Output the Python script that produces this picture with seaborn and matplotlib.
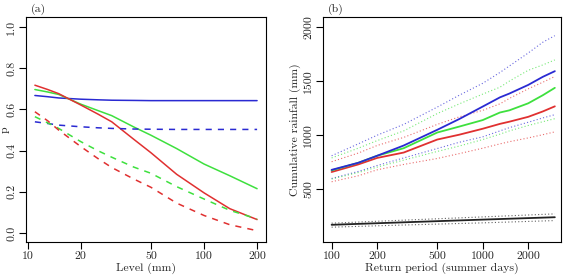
import numpy as np
import pandas as pd
import matplotlib
matplotlib.use('Agg')
import matplotlib.pyplot as plt
import seaborn as sns

# Panel (a): probability p against level (mm)
level = [11, 13, 15, 20, 25, 30, 40, 50, 70, 100, 140, 200]
p_blue = [0.668, 0.662, 0.656, 0.650, 0.647, 0.645, 0.644, 0.643, 0.643, 0.643, 0.643, 0.643]
p_green = [0.697, 0.685, 0.673, 0.626, 0.595, 0.570, 0.515, 0.475, 0.41, 0.335, 0.278, 0.215]
p_red = [0.718, 0.697, 0.677, 0.622, 0.578, 0.540, 0.455, 0.39, 0.285, 0.195, 0.118, 0.065]
p_blue_d = [0.54, 0.532, 0.524, 0.516, 0.511, 0.508, 0.505, 0.504, 0.503, 0.503, 0.503, 0.503]
p_green_d = [0.565, 0.535, 0.508, 0.444, 0.40, 0.368, 0.32, 0.29, 0.225, 0.165, 0.11, 0.068]
p_red_d = [0.589, 0.545, 0.50, 0.42, 0.362, 0.318, 0.262, 0.222, 0.145, 0.085, 0.04, 0.011]

# Panel (b): cumulative rainfall against return period
period = [100, 150, 200, 300, 500, 700, 1000, 1300, 1500, 2000, 2500, 3000]
rain_blue = [680, 745, 810, 905, 1050, 1150, 1265, 1350, 1385, 1465, 1540, 1592]
rain_green = [675, 745, 810, 880, 1025, 1080, 1140, 1210, 1230, 1295, 1370, 1438]
rain_red = [660, 730, 790, 840, 960, 1005, 1060, 1105, 1125, 1170, 1220, 1267]
up_blue = [810, 920, 1000, 1100, 1260, 1370, 1480, 1580, 1640, 1760, 1860, 1920]
up_green = [790, 880, 950, 1040, 1200, 1290, 1380, 1444, 1500, 1600, 1650, 1696]
up_red = [755, 835, 905, 980, 1100, 1170, 1230, 1290, 1340, 1429, 1490, 1543]
lo_blue = [600, 665, 720, 790, 877, 935, 985, 1040, 1070, 1120, 1160, 1190]
lo_green = [595, 655, 705, 770, 850, 900, 960, 1010, 1040, 1090, 1125, 1153]
lo_red = [570, 625, 680, 730, 785, 830, 880, 920, 940, 975, 1005, 1031]

period_k = [100, 300, 1000, 3000]
rain_black = [172, 195, 220, 242]
up_black = [187, 215, 245, 273]
lo_black = [150, 170, 190, 211]

BLUE = '#2a2ad2'
GREEN = '#3ee03e'
RED = '#e03030'
BLACK = '#222222'

sns.set_style('white')
plt.rcParams['font.family'] = 'serif'
plt.rcParams['font.serif'] = ['cmr10', 'DejaVu Serif']
plt.rcParams['axes.formatter.use_mathtext'] = True
plt.rcParams['font.size'] = 8.5

fig = plt.figure(figsize=(5.64, 2.8), dpi=100)
ax1 = fig.add_axes([0.0461, 0.1357, 0.4255, 0.8033])
ax2 = fig.add_axes([0.5727, 0.1357, 0.4220, 0.8033])

# Panel (a)
for y, c, ls in [(p_blue, BLUE, '-'), (p_green, GREEN, '-'), (p_red, RED, '-'),
                 (p_blue_d, BLUE, (0, (4, 4))), (p_green_d, GREEN, (0, (4, 4))),
                 (p_red_d, RED, (0, (4, 4)))]:
    sns.lineplot(x=level, y=y, ax=ax1, color=c, linestyle=ls, linewidth=1.1)

ax1.set_xscale('log')
lx = np.log10([11, 200])
pad = 0.04 * (lx[1] - lx[0])
ax1.set_xlim(10 ** (lx[0] - pad), 10 ** (lx[1] + pad))
ax1.set_ylim(-0.044, 1.049)
ax1.set_xticks([10, 20, 50, 100, 200])
ax1.set_xticklabels(['10', '20', '50', '100', '200'])
ax1.xaxis.set_minor_locator(matplotlib.ticker.NullLocator())
ax1.set_yticks([0.0, 0.2, 0.4, 0.6, 0.8, 1.0])
ax1.set_yticklabels(['0.0', '0.2', '0.4', '0.6', '0.8', '1.0'])
ax1.set_xlabel('Level (mm)', labelpad=1)
ax1.set_ylabel('p')
ax1.yaxis.set_label_coords(-0.068, 0.5)
ax1.text(0.02, 1.01, '(a)', transform=ax1.transAxes, va='bottom', ha='left')

# Panel (b)
for y, c in [(up_blue, BLUE), (up_green, GREEN), (up_red, RED),
             (lo_blue, BLUE), (lo_green, GREEN), (lo_red, RED)]:
    sns.lineplot(x=period, y=y, ax=ax2, color=c, linestyle=(0, (1, 2)),
                 linewidth=0.8, alpha=0.7)
for y, c in [(rain_red, RED), (rain_green, GREEN), (rain_blue, BLUE)]:
    sns.lineplot(x=period, y=y, ax=ax2, color=c, linewidth=1.3)
sns.lineplot(x=period_k, y=up_black, ax=ax2, color=BLACK, linestyle=(0, (1, 2)),
             linewidth=0.8, alpha=0.7)
sns.lineplot(x=period_k, y=lo_black, ax=ax2, color=BLACK, linestyle=(0, (1, 2)),
             linewidth=0.8, alpha=0.7)
sns.lineplot(x=period_k, y=rain_black, ax=ax2, color=BLACK, linewidth=1.3)

ax2.set_xscale('log')
ax2.set_xlim(10 ** 1.943, 10 ** 3.518)
ax2.set_ylim(13, 2092)
ax2.set_xticks([100, 200, 500, 1000, 2000])
ax2.set_xticklabels(['100', '200', '500', '1000', '2000'])
ax2.xaxis.set_minor_locator(matplotlib.ticker.NullLocator())
ax2.set_yticks([500, 1000, 1500, 2000])
ax2.set_yticklabels(['500', '1000', '1500', '2000'])
ax2.set_xlabel('Return period (summer days)', labelpad=1)
ax2.set_ylabel('Cumulative rainfall (mm)', labelpad=2)
ax2.text(0.02, 1.01, '(b)', transform=ax2.transAxes, va='bottom', ha='left')

for ax in (ax1, ax2):
    for s in ax.spines.values():
        s.set_visible(True)
        s.set_color('black')
        s.set_linewidth(0.8)
    ax.tick_params(axis='both', which='major', direction='out', length=5,
                   width=0.8, color='black', pad=2, labelsize=8.5, left=True, bottom=True)
    for lab in ax.get_yticklabels():
        lab.set_rotation(90)
        lab.set_va('center')

fig.savefig('out.png', dpi=100)
